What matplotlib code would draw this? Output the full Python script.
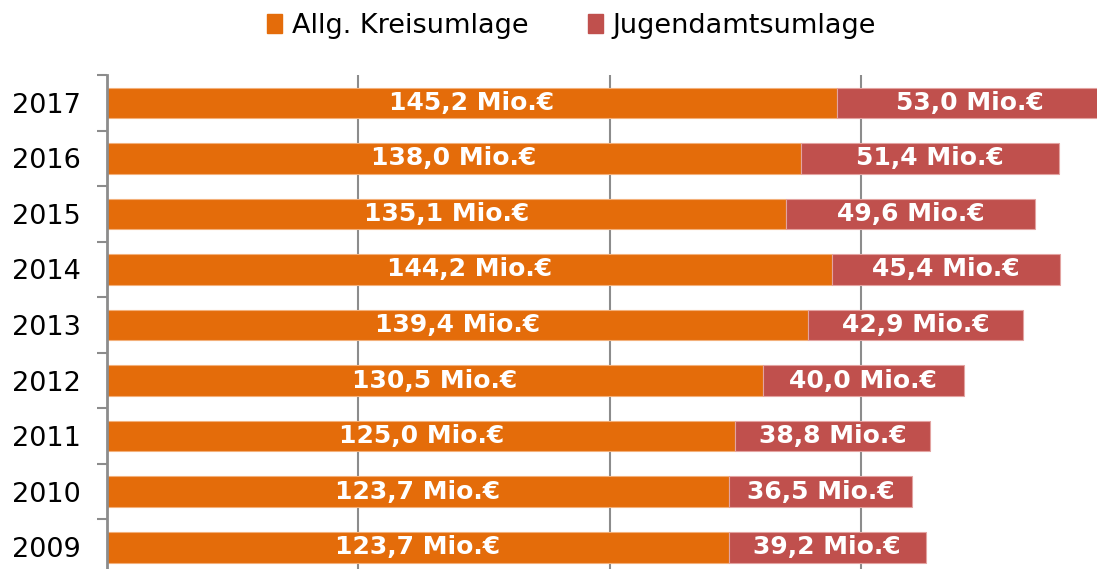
import matplotlib.pyplot as plt
from matplotlib.patches import Patch

# data
years = ['2009', '2010', '2011', '2012', '2013', '2014', '2015', '2016', '2017']
kreisumlage = [123.7, 123.7, 125.0, 130.5, 139.4, 144.2, 135.1, 138.0, 145.2]
jugendamt = [39.2, 36.5, 38.8, 40.0, 42.9, 45.4, 49.6, 51.4, 53.0]

orange = '#E46C0A'
red = '#C0504D'

fig = plt.figure(figsize=(10.97, 5.69), dpi=100)
ax = fig.add_axes([107.3 / 1097, -6 / 569, 1 - 107.3 / 1097, 500 / 569])

y = range(len(years))
b1 = ax.barh(y, kreisumlage, height=0.55, color=orange, edgecolor='#F3B07A', linewidth=0.8)
b2 = ax.barh(y, jugendamt, left=kreisumlage, height=0.55, color=red, edgecolor='#E3A3A1', linewidth=0.8)

def fmt(v):
    return ('%.1f' % v).replace('.', ',') + ' Mio.€'

for i in y:
    ax.text(kreisumlage[i] / 2, i, fmt(kreisumlage[i]), ha='center', va='center',
            color='white', fontsize=18, fontweight='bold')
    ax.text(kreisumlage[i] + jugendamt[i] / 2, i, fmt(jugendamt[i]), ha='center', va='center',
            color='white', fontsize=18, fontweight='bold')

ax.set_xlim(0, 197.0)
ax.set_ylim(-0.5, 8.5)
ax.set_xticks([50, 100, 150])
ax.xaxis.grid(True, color='#8C8C8C', linewidth=1.5)
ax.set_axisbelow(True)
ax.tick_params(axis='x', length=0, labelbottom=False)

ax.set_yticks(list(y))
ax.set_yticklabels(years, fontsize=19.5)
ax.set_yticks([i - 0.5 for i in range(len(years) + 1)], minor=True)
ax.tick_params(axis='y', which='major', length=0, pad=19)
ax.tick_params(axis='y', which='minor', length=7, width=1.5, color='#8C8C8C')

for s in ['top', 'right', 'bottom']:
    ax.spines[s].set_visible(False)
ax.spines['left'].set_color('#8C8C8C')
ax.spines['left'].set_linewidth(2)

handles = [Patch(color=orange, label='Allg. Kreisumlage'),
           Patch(color=red, label='Jugendamtsumlage')]
fig.legend(handles=handles, loc='upper center', bbox_to_anchor=(0.521, 1.02), ncol=2,
           frameon=False, fontsize=19.5, handlelength=0.55, handleheight=0.7,
           handletextpad=0.35, columnspacing=2.2)

fig.savefig('out.png', dpi=100)
